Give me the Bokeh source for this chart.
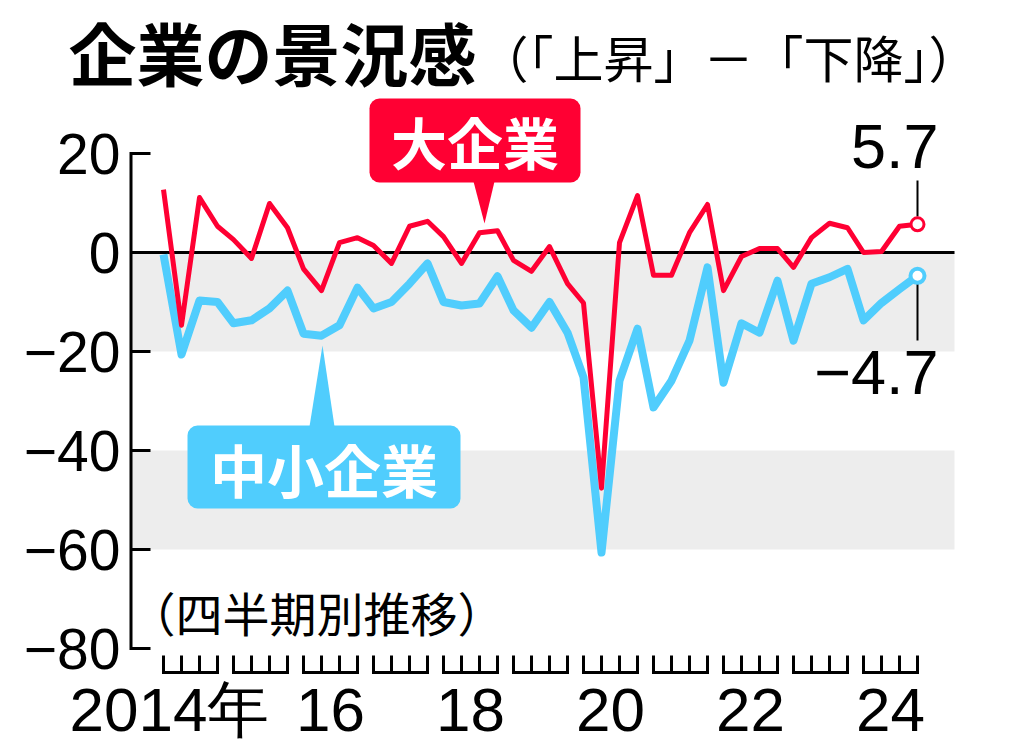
from bokeh.plotting import figure
from bokeh.models import Range1d
from bokeh.core.properties import value
from bokeh.embed import file_html
from bokeh.resources import INLINE

# ---------------- data ----------------
years = list(range(2014, 2025))
quarters = [1, 2, 3, 4]
large_firms = [12.7, -14.7, 11.1, 5.3, 2.6, -1.2, 9.9, 5.0, -3.3, -7.7, 2.0, 3.0,
               1.4, -2.2, 5.3, 6.3, 3.2, -2.2, 4.0, 4.4, -1.6, -3.8, 1.2, -6.3,
               -10.2, -47.6, 2.0, 11.5, -4.6, -4.6, 4.0, 9.7, -7.7, -0.8, 0.8, 0.8,
               -3.0, 3.0, 5.9, 5.0, 0.0, 0.2, 5.3, 5.7]
small_firms = [-0.4, -20.6, -9.7, -10.0, -14.3, -13.7, -11.3, -7.7, -16.4, -16.8, -14.7, -7.1,
               -11.3, -10.0, -6.3, -2.2, -10.0, -10.7, -10.3, -4.8, -11.7, -15.2, -10.0, -16.2,
               -25.2, -60.6, -25.9, -15.4, -31.3, -25.9, -17.8, -3.0, -26.3, -14.3, -16.2, -5.7,
               -17.8, -6.3, -5.0, -3.3, -13.7, -10.2, -7.4, -4.7]
label_years = [2014, 2016, 2018, 2020, 2022, 2024]
label_texts = ["2014年", "16", "18", "20", "22", "24"]
y_ticks = [20, 0, -20, -40, -60, -80]
y_tick_labels = ["20", "0", "−20", "−40", "−60", "−80"]
band_tops = [0, -40]
band_bottoms = [-20, -60]
title_main = "企業の景況感"
title_sub = "（「上昇」－「下降」）"
note_text = "（四半期別推移）"
name_large = "大企業"
name_small = "中小企業"

# ---------------- layout helpers (reference pixel -> data) ----------------
PX_PER_YEAR = 70.0
PX_PER_UNIT = 4.95
Q_STEP = 18.0 / PX_PER_YEAR


def X(px):
    return 2014 + (px - 163) / PX_PER_YEAR


def Y(py):
    return (252 - py) / PX_PER_UNIT


xs = [yr + (q - 1) * Q_STEP for yr in years for q in quarters]

RED = "#FF0033"
BLUE = "#50CDFD"
GRAY = "#EDEDED"
JP = value("Noto Sans CJK JP")
NUM = value("Liberation Sans")

W, H = 1024, 754
p = figure(width=W, height=H, output_backend="svg", toolbar_location=None,
           x_range=Range1d(X(0), X(W)), y_range=Range1d(Y(H), Y(0)),
           x_axis_location=None, y_axis_location=None,
           min_border_left=0, min_border_right=0, min_border_top=0, min_border_bottom=0)
p.outline_line_color = None
p.grid.visible = False
p.background_fill_color = "white"

# bands and zero line
p.quad(left=X(130), right=X(954), top=band_tops, bottom=band_bottoms,
       fill_color=GRAY, line_color=None)
p.segment(x0=[X(130)], y0=[0], x1=[X(954)], y1=[0], line_color="black", line_width=3)

# y axis: line, inward ticks, labels
p.segment(x0=[X(130.5)], y0=[min(y_ticks)], x1=[X(130.5)], y1=[max(y_ticks)],
          line_color="black", line_width=3, line_cap="square")
p.segment(x0=[X(130)] * len(y_ticks), y0=y_ticks, x1=[X(150)] * len(y_ticks), y1=y_ticks,
          line_color="black", line_width=3)
p.text(x=[X(120)] * len(y_ticks), y=y_ticks, text=y_tick_labels, text_font=NUM,
       text_font_size="57px", text_align="right", text_baseline="middle", text_color="black")

# quarter tick groups
group_x, group_y = [], []
for i, yr in enumerate(years):
    qx = xs[i * 4:(i + 1) * 4]
    group_x.append([qx[0], qx[0], qx[3], qx[3]])
    group_y.append([Y(655), Y(672), Y(672), Y(655)])
    for mx in (qx[1], qx[2]):
        group_x.append([mx, mx])
        group_y.append([Y(655), Y(672)])
p.multi_line(group_x, group_y, line_color="black", line_width=3, line_join="miter")

# x labels
lab_x = [yr + 1.5 * Q_STEP for yr in label_years]
lab_x[0] = X(169)
p.text(x=lab_x, y=[Y(709)] * len(lab_x), text=label_texts, text_font=NUM,
       text_font_size="62px", text_align="center", text_baseline="middle",
       text_color="black")

# series
p.line(xs, small_firms, line_color=BLUE, line_width=8, line_join="round")
p.line(xs, large_firms, line_color=RED, line_width=5, line_join="round")

# end markers + leaders
p.segment(x0=[xs[-1], xs[-1]], y0=[Y(180), Y(283)], x1=[xs[-1], xs[-1]], y1=[Y(216), Y(340)],
          line_color="black", line_width=2)
p.scatter([xs[-1]], [large_firms[-1]], size=13, fill_color="white", line_color=RED, line_width=3)
p.scatter([xs[-1]], [small_firms[-1]], size=14, fill_color="white", line_color=BLUE, line_width=4)


def fmt(v):
    return f"{v:.1f}".replace("-", "−")


p.text(x=[X(938), X(938)], y=[Y(146), Y(372)],
       text=[fmt(large_firms[-1]), fmt(small_firms[-1])],
       text_font=NUM, text_font_size="63px", text_align="right",
       text_baseline="middle", text_color="black")

# callout boxes
p.quad(left=[X(369)], right=[X(580)], top=[Y(98)], bottom=[Y(182)],
       fill_color=RED, line_color=None, border_radius=10)
p.patch([X(473), X(494), X(484)], [Y(181), Y(181), Y(223)], fill_color=RED, line_color=None)
p.text(x=[X(474.5)], y=[Y(140)], text=[name_large], text_font=JP, text_font_size="56px",
       text_font_style="bold", text_align="center", text_baseline="middle", text_color="white")

p.quad(left=[X(187)], right=[X(460)], top=[Y(425)], bottom=[Y(508)],
       fill_color=BLUE, line_color=None, border_radius=10)
p.patch([X(309), X(334), X(322)], [Y(426), Y(426), Y(345)], fill_color=BLUE, line_color=None)
p.text(x=[X(323.5)], y=[Y(467)], text=[name_small], text_font=JP, text_font_size="57px",
       text_font_style="bold", text_align="center", text_baseline="middle", text_color="white")

# titles and note
p.text(x=[X(68)], y=[Y(51)], text=[title_main], text_font=JP, text_font_size="68px",
       text_font_style="bold", text_align="left", text_baseline="middle", text_color="black")
p.text(x=[X(478)], y=[Y(55)], text=[title_sub], text_font=JP, text_font_size="50px",
       text_align="left", text_baseline="middle", text_color="black")
p.text(x=[X(128)], y=[Y(611)], text=[note_text], text_font=JP, text_font_size="47px",
       text_align="left", text_baseline="middle", text_color="black")

open("out.html", "w").write(file_html(p, INLINE))
